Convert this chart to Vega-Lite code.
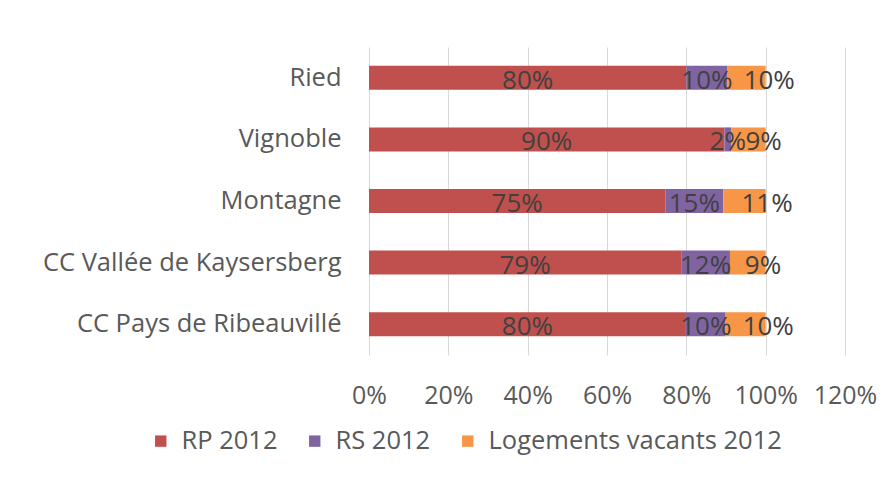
{
  "$schema": "https://vega.github.io/schema/vega-lite/v6.json",
  "width": 476,
  "height": 308,
  "autosize": {"type": "none"},
  "padding": {"left": 369, "top": 47, "right": 49, "bottom": 144},
  "background": "white",
  "config": {
    "view": {"stroke": null},
    "font": "Open Sans",
    "axis": {"labelFont": "Open Sans", "labelColor": "#595959"},
    "legend": {"labelFont": "Open Sans", "labelColor": "#595959"}
  },
  "data": {
    "values": [
      {"zone": "Ried", "serie": "RP 2012", "ord": 1, "value": 0.80},
      {"zone": "Ried", "serie": "RS 2012", "ord": 2, "value": 0.104},
      {"zone": "Ried", "serie": "Logements vacants 2012", "ord": 3, "value": 0.096},
      {"zone": "Vignoble", "serie": "RP 2012", "ord": 1, "value": 0.896},
      {"zone": "Vignoble", "serie": "RS 2012", "ord": 2, "value": 0.017},
      {"zone": "Vignoble", "serie": "Logements vacants 2012", "ord": 3, "value": 0.087},
      {"zone": "Montagne", "serie": "RP 2012", "ord": 1, "value": 0.747},
      {"zone": "Montagne", "serie": "RS 2012", "ord": 2, "value": 0.146},
      {"zone": "Montagne", "serie": "Logements vacants 2012", "ord": 3, "value": 0.107},
      {"zone": "CC Vallée de Kaysersberg", "serie": "RP 2012", "ord": 1, "value": 0.787},
      {"zone": "CC Vallée de Kaysersberg", "serie": "RS 2012", "ord": 2, "value": 0.123},
      {"zone": "CC Vallée de Kaysersberg", "serie": "Logements vacants 2012", "ord": 3, "value": 0.09},
      {"zone": "CC Pays de Ribeauvillé", "serie": "RP 2012", "ord": 1, "value": 0.799},
      {"zone": "CC Pays de Ribeauvillé", "serie": "RS 2012", "ord": 2, "value": 0.1},
      {"zone": "CC Pays de Ribeauvillé", "serie": "Logements vacants 2012", "ord": 3, "value": 0.101}
    ]
  },
  "encoding": {
    "y": {
      "field": "zone",
      "type": "nominal",
      "sort": ["Ried", "Vignoble", "Montagne", "CC Vallée de Kaysersberg", "CC Pays de Ribeauvillé"],
      "scale": {"paddingInner": 0.61, "paddingOuter": 0.305},
      "axis": {"title": null, "domain": false, "ticks": false, "labelFontSize": 25.5, "labelPadding": 28, "labelLimit": 0, "labelColor": "#595959"}
    }
  },
  "layer": [
    {
      "mark": {"type": "bar"},
      "encoding": {
        "x": {
          "field": "value",
          "type": "quantitative",
          "stack": "zero",
          "scale": {"domain": [0, 1.2], "nice": false},
          "axis": {"title": null, "values": [0, 0.2, 0.4, 0.6, 0.8, 1.0, 1.2], "format": ".0%", "domain": false, "ticks": false, "grid": true, "gridColor": "#D9D9D9", "gridWidth": 1, "labelFontSize": 25, "labelPadding": 28, "labelOverlap": false, "labelLimit": 0, "labelBound": false, "labelFlush": false, "labelColor": "#595959"}
        },
        "color": {
          "field": "serie",
          "type": "nominal",
          "scale": {"domain": ["RP 2012", "RS 2012", "Logements vacants 2012"], "range": ["#C0504D", "#8064A2", "#F79646"]},
          "legend": {"title": null, "orient": "none", "direction": "horizontal", "legendX": -221, "legendY": 381, "symbolType": "square", "symbolSize": 130, "symbolStrokeWidth": 0, "labelFontSize": 25.5, "labelOffset": 8, "labelLimit": 0, "columnPadding": 24}
        },
        "order": {"field": "ord", "type": "quantitative"}
      }
    },
    {
      "transform": [
        {"stack": "value", "groupby": ["zone"], "sort": [{"field": "ord", "order": "ascending"}], "as": ["v0", "v1"]},
        {"calculate": "(datum.v0 + datum.v1) / 2", "as": "mid"},
        {"filter": "datum.ord < 3"}
      ],
      "mark": {"type": "text", "align": "center", "baseline": "middle", "fontSize": 26, "color": "#404040", "dy": 3},
      "encoding": {
        "x": {"field": "mid", "type": "quantitative"},
        "text": {"field": "value", "type": "quantitative", "format": ".0%"}
      }
    },
    {
      "transform": [
        {"stack": "value", "groupby": ["zone"], "sort": [{"field": "ord", "order": "ascending"}], "as": ["v0", "v1"]},
        {"calculate": "(datum.v0 + datum.v1) / 2", "as": "mid"},
        {"filter": "datum.ord == 3"}
      ],
      "mark": {"type": "text", "align": "left", "baseline": "middle", "fontSize": 26, "color": "#404040", "dx": -3, "dy": 3},
      "encoding": {
        "x": {"field": "mid", "type": "quantitative"},
        "text": {"field": "value", "type": "quantitative", "format": ".0%"}
      }
    }
  ]
}
